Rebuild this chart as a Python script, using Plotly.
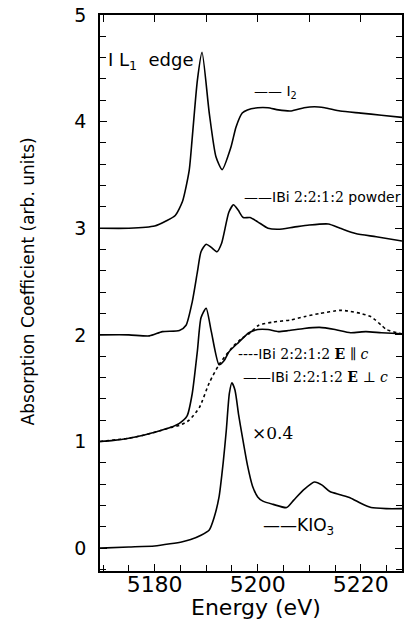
import plotly.graph_objects as go

# I2 (offset +3)
i2_x = [5169.4, 5175, 5180, 5182.3, 5184, 5185.4, 5186.7, 5187.3, 5188.3, 5189.2, 5190.6, 5191.9, 5193.1,
        5194.8, 5195.8, 5197, 5198, 5200, 5202, 5204, 5206.5, 5209, 5211, 5213, 5216, 5220, 5224, 5228]
i2_y = [3.00, 3.00, 3.02, 3.07, 3.12, 3.25, 3.54, 3.85, 4.39, 4.65, 4.08, 3.67, 3.55,
        3.76, 3.95, 4.08, 4.11, 4.13, 4.13, 4.11, 4.10, 4.13, 4.14, 4.13, 4.10, 4.08, 4.06, 4.04]

# IBi 2:2:1:2 powder (offset +2)
pw_x = [5169.4, 5175, 5179, 5181.5, 5184.8, 5186.1, 5187.3, 5188.3, 5189, 5190, 5191, 5192.1, 5193,
        5194.4, 5195.3, 5196.2, 5197.2, 5198.5, 5200, 5202, 5204, 5207, 5210, 5213.7, 5216, 5219, 5223, 5228]
pw_y = [2.00, 2.00, 1.99, 2.03, 2.04, 2.09, 2.31, 2.59, 2.78, 2.85, 2.82, 2.78, 2.86,
        3.15, 3.22, 3.17, 3.10, 3.10, 3.06, 3.00, 2.99, 3.01, 3.03, 3.04, 3.00, 2.95, 2.92, 2.88]

# IBi 2:2:1:2 E perp c (offset +1)
pe_x = [5169.4, 5172, 5175, 5178, 5181, 5183, 5184.8, 5186.3, 5187.3, 5188.3, 5189, 5190, 5191, 5192.5,
        5193.5, 5194.4, 5196.3, 5198.3, 5200, 5202, 5204, 5206, 5209, 5212, 5215, 5218, 5221, 5224, 5228]
pe_y = [1.00, 1.01, 1.03, 1.06, 1.10, 1.13, 1.17, 1.24, 1.45, 1.85, 2.16, 2.25, 2.03, 1.72,
        1.76, 1.84, 1.93, 2.02, 2.05, 2.05, 2.03, 2.04, 2.06, 2.07, 2.05, 2.02, 2.03, 2.02, 2.01]

# IBi 2:2:1:2 E parallel c (offset +1)
pa_x = [5169.4, 5175, 5178, 5181, 5183, 5184.8, 5186.7, 5188.7, 5190.6, 5192.5, 5195, 5197, 5198.3,
        5200.2, 5203, 5206.5, 5209, 5212, 5216, 5218, 5220, 5222, 5224, 5225, 5227, 5228]
pa_y = [1.00, 1.03, 1.06, 1.10, 1.13, 1.15, 1.20, 1.32, 1.55, 1.72, 1.88, 1.97, 2.01,
        2.09, 2.12, 2.14, 2.17, 2.20, 2.23, 2.22, 2.20, 2.17, 2.09, 2.05, 2.02, 2.01]

# KIO3 (x0.4)
k_x = [5169.4, 5175, 5180, 5183, 5185.4, 5187, 5189, 5190.6, 5191.5, 5192.5, 5193.3, 5193.9, 5194.5, 5195,
       5195.6, 5196.3, 5197, 5198, 5199, 5200, 5201, 5203, 5205.6, 5207, 5209, 5211, 5212.5, 5214, 5216,
       5218, 5220, 5222, 5225, 5228]
k_y = [0.00, 0.01, 0.02, 0.04, 0.06, 0.08, 0.12, 0.17, 0.28, 0.48, 0.80, 1.10, 1.45, 1.55,
       1.48, 1.25, 1.05, 0.78, 0.58, 0.48, 0.44, 0.41, 0.38, 0.45, 0.55, 0.62, 0.59, 0.53, 0.50,
       0.47, 0.42, 0.38, 0.37, 0.37]

x_range = [5169.4, 5228.0]
y_range = [-0.215, 5.0]
x_ticks = [5180, 5200, 5220]
y_ticks = [0, 1, 2, 3, 4, 5]

fig = go.Figure()
line = dict(color="black", width=1.6, shape="spline", smoothing=0.6)
for xs, ys in [(i2_x, i2_y), (pw_x, pw_y), (pe_x, pe_y), (k_x, k_y)]:
    fig.add_trace(go.Scatter(x=xs, y=ys, mode="lines", line=line, showlegend=False, hoverinfo="skip"))
fig.add_trace(go.Scatter(x=pa_x, y=pa_y, mode="lines", showlegend=False, hoverinfo="skip",
                         line=dict(color="black", width=1.6, shape="spline", smoothing=0.6, dash="3px,3px")))
# invisible trace for top axis
fig.add_trace(go.Scatter(x=x_range, y=[None, None], xaxis="x2", showlegend=False, hoverinfo="skip"))

SANS = "DejaVu Sans"
SERIF = "DejaVu Serif"
ser = lambda t: f'<span style="font-family:{SERIF}">{t}</span>'

ann = []
def A(x, y, text, size=14, fam=SANS, **kw):
    ann.append(dict(x=x, y=y, xref="x", yref="y", text=text, showarrow=False, xanchor="left",
                    yanchor="middle", font=dict(family=fam, size=size, color="black"), **kw))

A(5170.6, 4.57, "I L<sub>1</sub>  edge", size=18)
A(5198.9, 4.28, "—— I<sub>2</sub>", size=14)
A(5197.0, 3.29, "——IBi " + ser("2:2:1:2") + " powder", size=14)
A(5195.8, 1.82, "----IBi " + ser("2:2:1:2 <b>E</b> ∥ <i>c</i>"), size=14)
A(5196.8, 1.60, "——IBi " + ser("2:2:1:2 <b>E</b> ⊥ <i>c</i>"), size=14)
A(5198.5, 1.08, "×0.4", size=17, fam=SERIF)
A(5200.6, 0.20, "——KIO<sub>3</sub>", size=17)

ann.append(dict(x=-0.240, y=0.52, xref="paper", yref="paper", text="Absorption Coefficient (arb. units)",
                textangle=-90, showarrow=False, xanchor="center", yanchor="middle",
                font=dict(family=SANS, size=17, color="black")))
ann.append(dict(x=0.516, y=-0.065, xref="paper", yref="paper", text="Energy (eV)",
                showarrow=False, xanchor="center", yanchor="middle",
                font=dict(family=SANS, size=22, color="black")))

fig.update_layout(
    width=405, height=627,
    margin=dict(l=100, r=1, t=15, b=56),
    paper_bgcolor="white", plot_bgcolor="white",
    annotations=ann,
    xaxis=dict(range=x_range, tickvals=x_ticks, ticks="inside", ticklen=7, tickwidth=1.2,
               tickcolor="black", showline=True, linecolor="black", linewidth=1.6, showgrid=False,
               zeroline=False, mirror=False, ticklabelstandoff=-7,
               minor=dict(dtick=5, tick0=5170, ticks="inside", ticklen=6, tickwidth=1.2, tickcolor="black"),
               tickfont=dict(family=SANS, size=22, color="black")),
    xaxis2=dict(range=x_range, overlaying="x", side="top", dtick=10, tick0=5170, ticks="inside", ticklen=7,
                tickwidth=1.2, tickcolor="black", showline=True, linecolor="black", linewidth=1.6,
                showticklabels=False, showgrid=False, zeroline=False),
    yaxis=dict(range=y_range, tickvals=y_ticks, ticks="inside", ticklen=7, tickwidth=1.2,
               tickcolor="black", showline=True, linecolor="black", linewidth=1.6, showgrid=False,
               zeroline=False, mirror="ticks", ticklabelstandoff=8,
               minor=dict(dtick=0.2, tick0=0, ticks="inside", ticklen=6, tickwidth=1.2, tickcolor="black"),
               tickfont=dict(family=SANS, size=19, color="black")),
)

fig.write_html("out.html")
